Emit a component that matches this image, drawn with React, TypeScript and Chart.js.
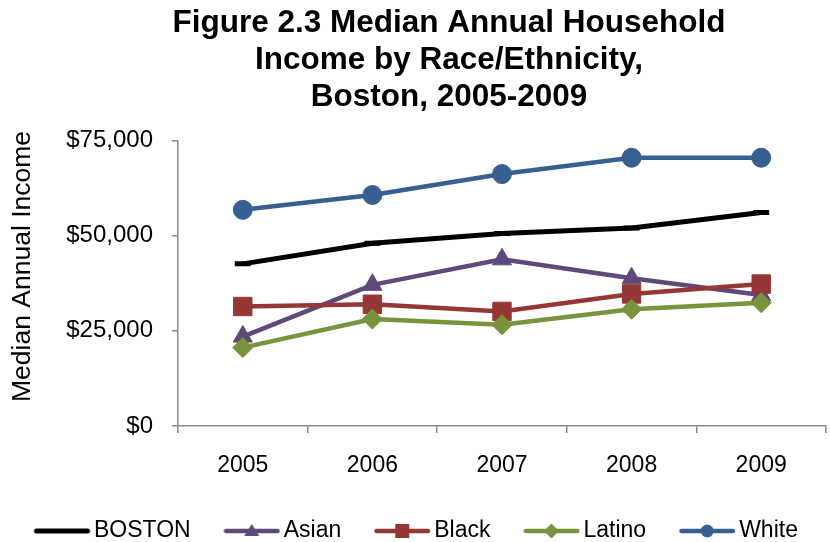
import React, { useEffect, useRef } from 'react';
import { Chart, registerables } from 'chart.js';

Chart.register(...registerables);

const years = ['2005', '2006', '2007', '2008', '2009'];
const bostonValues = [42600, 48000, 50600, 52000, 56100];
const asianValues = [23500, 37100, 43800, 38800, 34400];
const blackValues = [31400, 32000, 30100, 34700, 37300];
const latinoValues = [20600, 28100, 26600, 30700, 32400];
const whiteValues = [56800, 60700, 66200, 70500, 70500];
const yTickValues = [0, 25000, 50000, 75000];
const seriesNames = ['BOSTON', 'Asian', 'Black', 'Latino', 'White'];
const titleLines = ['Figure 2.3 Median Annual Household', 'Income by Race/Ethnicity,', 'Boston, 2005-2009'];
const yAxisTitle = 'Median Annual Income';

const FONT = '"Liberation Sans", Arial, Helvetica, sans-serif';
const AXIS = '#8a8a8a';
const C_BOSTON = '#000000';
const C_ASIAN = '#5f497a';
const C_BLACK = '#953735';
const C_LATINO = '#77933c';
const C_WHITE = '#376092';

// legend symbol: transparent canvas with a 56px line whose left end sits 7.75px left of the image centre
const IMG_W = 98;
const IMG_H = 20;
const LINE_START = 41.25;
const LINE_LEN = 56;

function legendImage(color: string, marker: string, lineWidth: number): HTMLCanvasElement {
  const c = document.createElement('canvas');
  c.width = IMG_W;
  c.height = IMG_H;
  const ctx = c.getContext('2d') as CanvasRenderingContext2D;
  const cy = IMG_H / 2;
  ctx.strokeStyle = color;
  ctx.fillStyle = color;
  ctx.lineWidth = lineWidth;
  ctx.lineCap = 'round';
  ctx.beginPath();
  ctx.moveTo(LINE_START + lineWidth / 2, cy);
  ctx.lineTo(LINE_START + LINE_LEN - lineWidth / 2, cy);
  ctx.stroke();
  const cx = LINE_START + LINE_LEN / 2;
  ctx.beginPath();
  if (marker === 'circle') {
    ctx.arc(cx, cy, 6.5, 0, Math.PI * 2);
  } else if (marker === 'rect') {
    ctx.rect(cx - 7, cy - 7, 14, 14);
  } else if (marker === 'rectRot') {
    ctx.moveTo(cx, cy - 7.5);
    ctx.lineTo(cx + 7.5, cy);
    ctx.lineTo(cx, cy + 7.5);
    ctx.lineTo(cx - 7.5, cy);
    ctx.closePath();
  } else if (marker === 'triangle') {
    ctx.moveTo(cx, cy - 7);
    ctx.lineTo(cx + 7.5, cy + 5);
    ctx.lineTo(cx - 7.5, cy + 5);
    ctx.closePath();
  }
  if (marker !== 'none') ctx.fill();
  return c;
}

const yTitlePlugin = {
  id: 'yTitleText',
  afterDraw(chart: any) {
    const ctx = chart.ctx;
    ctx.save();
    ctx.translate(23, 266.5);
    ctx.rotate(-Math.PI / 2);
    ctx.font = '26.5px ' + FONT;
    ctx.fillStyle = '#000000';
    ctx.textAlign = 'center';
    ctx.textBaseline = 'middle';
    ctx.fillText(yAxisTitle, 0, 0);
    ctx.restore();
  },
};

const titleShiftPlugin = {
  id: 'titleShift',
  afterLayout(chart: any) {
    const t = chart.titleBlock;
    if (t) {
      t.left = 72;
      t.right = 826;
    }
  },
};

export default function App() {
  const ref = useRef<HTMLCanvasElement | null>(null);

  useEffect(() => {
    if (!ref.current) return;
    const legendImgs = [
      legendImage(C_BOSTON, 'none', 5),
      legendImage(C_ASIAN, 'triangle', 4.5),
      legendImage(C_BLACK, 'rect', 4.5),
      legendImage(C_LATINO, 'rectRot', 4.5),
      legendImage(C_WHITE, 'circle', 4.5),
    ];

    const chart = new Chart(ref.current, {
      type: 'line',
      data: {
        labels: years,
        datasets: [
          {
            label: seriesNames[0],
            data: bostonValues,
            borderColor: C_BOSTON,
            backgroundColor: C_BOSTON,
            borderWidth: 5,
            pointStyle: 'line',
            pointRadius: 8,
            pointBorderWidth: 5,
            pointBorderColor: C_BOSTON,
            tension: 0,
            order: 4,
          },
          {
            label: seriesNames[1],
            data: asianValues,
            borderColor: C_ASIAN,
            backgroundColor: C_ASIAN,
            borderWidth: 4.5,
            pointStyle: 'triangle',
            pointRadius: 11,
            pointBorderWidth: 1,
            pointBorderColor: C_ASIAN,
            pointBackgroundColor: C_ASIAN,
            tension: 0,
            order: 3,
          },
          {
            label: seriesNames[2],
            data: blackValues,
            borderColor: C_BLACK,
            backgroundColor: C_BLACK,
            borderWidth: 4.5,
            pointStyle: 'rect',
            pointRadius: 13,
            pointBorderWidth: 1,
            pointBorderColor: C_BLACK,
            pointBackgroundColor: C_BLACK,
            tension: 0,
            order: 2,
          },
          {
            label: seriesNames[3],
            data: latinoValues,
            borderColor: C_LATINO,
            backgroundColor: C_LATINO,
            borderWidth: 4.5,
            pointStyle: 'rectRot',
            pointRadius: 10,
            pointBorderWidth: 1,
            pointBorderColor: C_LATINO,
            pointBackgroundColor: C_LATINO,
            tension: 0,
            order: 1,
          },
          {
            label: seriesNames[4],
            data: whiteValues,
            borderColor: C_WHITE,
            backgroundColor: C_WHITE,
            borderWidth: 4.5,
            pointStyle: 'circle',
            pointRadius: 9.5,
            pointBorderWidth: 1,
            pointBorderColor: C_WHITE,
            pointBackgroundColor: C_WHITE,
            tension: 0,
            order: 0,
          },
        ],
      },
      options: {
        animation: false,
        responsive: true,
        maintainAspectRatio: false,
        layout: { autoPadding: false, padding: { left: 1, right: 4, top: 0, bottom: -10.5 } },
        plugins: {
          tooltip: { enabled: false },
          title: {
            display: true,
            text: titleLines,
            color: '#000000',
            font: { family: FONT, size: 31.5, weight: 'bold', lineHeight: 1.17 },
            padding: { top: 5, bottom: 25 },
          },
          legend: {
            display: true,
            position: 'bottom',
            align: 'start',
            labels: {
              usePointStyle: true,
              pointStyleWidth: 81.5,
              padding: 0,
              color: '#000000',
              font: { family: FONT, size: 23 },
              generateLabels: (chart: any) =>
                chart.data.datasets.map((ds: any, i: number) => ({
                  text: ds.label,
                  pointStyle: legendImgs[i],
                  fillStyle: ds.borderColor,
                  strokeStyle: ds.borderColor,
                  lineWidth: 0,
                  hidden: false,
                  datasetIndex: i,
                  fontColor: '#000000',
                })),
            },
          },
        },
        scales: {
          x: {
            type: 'category',
            offset: true,
            grid: {
              display: true,
              offset: true,
              drawOnChartArea: false,
              drawTicks: true,
              tickLength: 7,
              color: AXIS,
              lineWidth: 1.5,
            },
            border: { display: true, color: AXIS, width: 1.5 },
            ticks: {
              color: '#000000',
              font: { family: FONT, size: 23 },
              padding: 19,
              maxRotation: 0,
              autoSkip: false,
            },
            afterFit: (s: any) => {
              s.height = 93.5;
              s.paddingLeft = 0;
              s.paddingRight = 0;
            },
          },
          y: {
            type: 'linear',
            min: 0,
            max: 75000,
            afterBuildTicks: (s: any) => {
              s.ticks = yTickValues.map((v) => ({ value: v }));
            },
            grid: {
              display: true,
              drawOnChartArea: false,
              drawTicks: true,
              tickLength: 6,
              color: AXIS,
              lineWidth: 1.5,
            },
            border: { display: true, color: AXIS, width: 1.5 },
            ticks: {
              color: '#000000',
              font: { family: FONT, size: 24 },
              padding: 19,
              callback: (v: any) => '$' + Number(v).toLocaleString('en-US'),
            },
            afterFit: (s: any) => {
              s.width = 177;
              s.paddingLeft = 0;
              s.paddingRight = 0;
            },
          },
        },
      },
      plugins: [yTitlePlugin, titleShiftPlugin],
    } as any);

    return () => {
      chart.destroy();
    };
  }, []);

  return (
    <div style={{ position: 'absolute', left: 0, top: 0, width: 830, height: 542 }}>
      <canvas ref={ref} />
    </div>
  );
}
